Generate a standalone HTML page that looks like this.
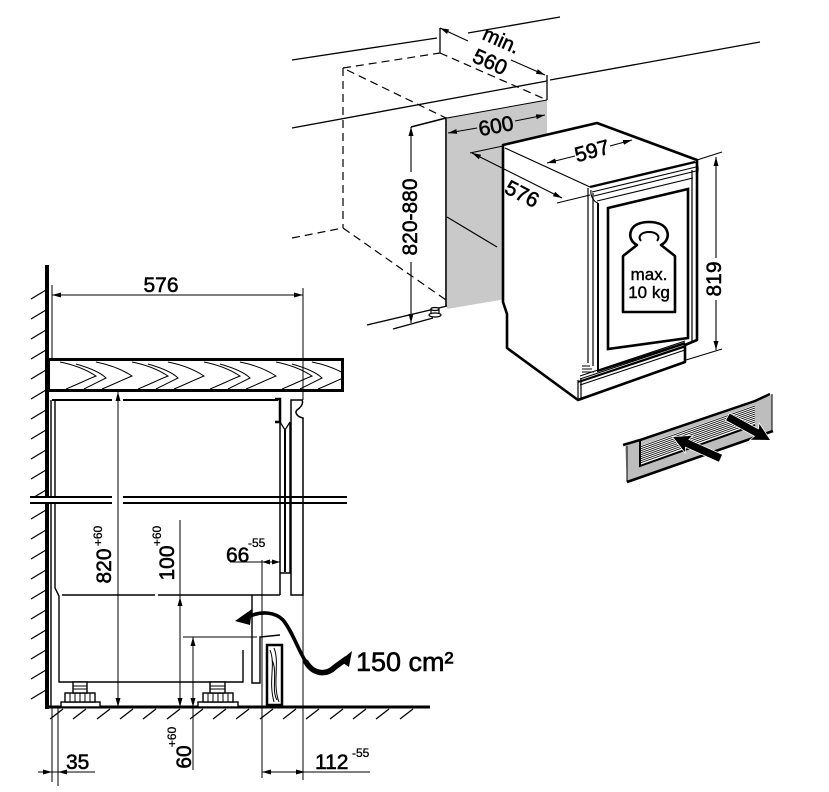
<!DOCTYPE html>
<html><head><meta charset="utf-8">
<style>html,body{margin:0;padding:0;background:#fff}svg{display:block}.t{fill:#000;stroke:none}.tx{fill:#000;stroke:#000;stroke-width:0.55}</style>
</head><body>
<svg xmlns="http://www.w3.org/2000/svg" width="829" height="792" viewBox="0 0 829 792" font-family="'Liberation Sans', sans-serif" fill="none" stroke="#000">
<defs>
<marker id="ar" viewBox="0 0 9 5" refX="9" refY="2.5" markerWidth="9" markerHeight="5" markerUnits="userSpaceOnUse" orient="auto-start-reverse"><path d="M0,0L9,2.5L0,5z" fill="#000" stroke="none"/></marker>
<clipPath id="ct"><rect x="50" y="361" width="291" height="28"/></clipPath>
</defs>

<!-- ========== UPPER RIGHT: NICHE ========== -->
<g stroke-width="1.3">
<line x1="292" y1="60" x2="437" y2="38"/>
<line x1="468" y1="33" x2="560" y2="17"/>
<line x1="292" y1="128" x2="547" y2="81"/>
<line x1="550" y1="80" x2="760" y2="42"/>
</g>
<polygon points="447,118 547,100 547,292 447,309" fill="#c9c9c9" stroke="none"/>
<line x1="447" y1="118" x2="547" y2="100" stroke-width="1"/>
<line x1="447" y1="217" x2="497" y2="247" stroke-width="1.2"/>
<line x1="547" y1="75" x2="547" y2="100" stroke-width="1.3"/>
<line x1="440" y1="28" x2="440" y2="53" stroke-width="1.3"/>
<g stroke-dasharray="8 5" stroke-width="1.2">
<path d="M343,68 L440,53"/>
<path d="M440,53 L547,100"/>
<path d="M343,68 L343,228"/>
<path d="M292,238 L343,228 L446,300"/>
<path d="M347,70 L446,118"/>
</g>
<path d="M411,127 L446,118 L446,306" stroke-width="1.6"/>
<line x1="367" y1="325" x2="447" y2="306" stroke-width="1.3"/>
<line x1="393" y1="329" x2="433" y2="318" stroke-width="1.3"/>
<rect x="431" y="309" width="8" height="5" fill="#fff" stroke-width="1.2"/>
<ellipse cx="435" cy="309" rx="4" ry="1.5" fill="#fff" stroke-width="1.2"/>
<ellipse cx="435" cy="315" rx="6" ry="2" fill="#fff" stroke-width="1.2"/>

<!-- 820-880 -->
<line x1="411" y1="127" x2="411" y2="172" stroke-width="1.1" marker-start="url(#ar)"/>
<line x1="411" y1="262" x2="411" y2="323" stroke-width="1.1" marker-end="url(#ar)"/>
<text class="tx" font-size="21" text-anchor="middle" transform="translate(410,217) rotate(-90)" y="7">820-880</text>

<!-- min. 560 -->
<line x1="440" y1="28" x2="468" y2="41" stroke-width="1.1" marker-start="url(#ar)"/>
<line x1="511" y1="60" x2="545" y2="75" stroke-width="1.1" marker-end="url(#ar)"/>
<text class="tx" font-size="20" text-anchor="middle" transform="translate(501,41) rotate(24)" y="6">min.</text>
<text class="tx" font-size="21" text-anchor="middle" transform="translate(490,62) rotate(24)" y="7">560</text>

<!-- 600 -->
<line x1="448" y1="133" x2="477" y2="128" stroke-width="1.1" marker-start="url(#ar)"/>
<line x1="515" y1="121" x2="545" y2="115" stroke-width="1.1" marker-end="url(#ar)"/>
<text class="tx" font-size="21" text-anchor="middle" transform="translate(496,126) rotate(-10.5)" y="7">600</text>

<!-- ========== FRIDGE ========== -->
<path d="M503,145 L597,123 L697,160 L697,340 L685,345 L685,362 L578,400 L507,348 L507,314 L503,302 Z" fill="#fff" stroke-width="2.6" stroke-linejoin="round"/>
<g stroke-width="1.2">
<line x1="505" y1="148" x2="590" y2="187"/>
<line x1="588" y1="188" x2="588" y2="363"/>
<line x1="593" y1="193" x2="593" y2="366"/>
<line x1="692" y1="170" x2="692" y2="343"/>
<line x1="578" y1="380" x2="578" y2="400"/>
<line x1="581" y1="378" x2="581" y2="398"/>
</g>
<path d="M598,203 L598,371 L685,343" stroke-width="2"/>
<path d="M590,187 L695,162" stroke-width="2.4"/>
<g stroke-width="1.1">
<path d="M592,192 L696,167"/>
<path d="M594,196 L696,171"/>
<path d="M597,201 L693,178"/>
<path d="M591,190 C590,196 594,202 598,203"/>
<path d="M695,162 C699,165 699,172 696,175"/>
</g>
<polygon points="608,208 688,189 688,338 608,349" stroke-width="2.6"/>
<g stroke-width="1.1">
<path d="M580,376 L685,341"/>
<path d="M580,379 L685,344"/>
<path d="M580,382 L685,347"/>
<path d="M580,385 L685,350"/>
<path d="M582,366 L590,366 M582,369 L592,369 M582,372 L594,372"/>
</g>
<path d="M578,382 L685,346" stroke-width="1.8"/>
<!-- weight -->
<path d="M623,312 L623,256 L637,245 C631,242 629,236 631,231 C633,225 640,222 649,222 C658,222 665,225 667,231 C669,236 667,242 661,245 L675,256 L675,312 Z" fill="#fff" stroke-width="2.6" stroke-linejoin="round"/>
<path d="M641,241 C637,236 642,232 649,232 C656,232 661,236 657,241" stroke-width="2"/>
<text class="tx" font-size="17" text-anchor="middle" x="649" y="280" style="stroke-width:0.4">max.</text>
<text class="tx" font-size="17" text-anchor="middle" x="649" y="298" style="stroke-width:0.4">10 kg</text>

<!-- 576 right -->
<line x1="470" y1="153" x2="503" y2="146" stroke-width="1"/>
<line x1="557" y1="203" x2="590" y2="195" stroke-width="1"/>
<line x1="472" y1="153" x2="562" y2="198" stroke-width="1.1" marker-start="url(#ar)" marker-end="url(#ar)"/>
<text class="tx" font-size="21" text-anchor="middle" transform="translate(522,194) rotate(27)" y="7">576</text>

<!-- 597 -->
<line x1="547" y1="163" x2="575" y2="156" stroke-width="1.1" marker-start="url(#ar)"/>
<line x1="610" y1="146" x2="632" y2="140" stroke-width="1.1" marker-end="url(#ar)"/>
<text class="tx" font-size="21" text-anchor="middle" transform="translate(592,151) rotate(-15)" y="7">597</text>

<!-- 819 -->
<line x1="697" y1="160" x2="722" y2="152" stroke-width="1"/>
<line x1="686" y1="360" x2="722" y2="349" stroke-width="1"/>
<line x1="716" y1="157" x2="716" y2="258" stroke-width="1.1" marker-start="url(#ar)"/>
<line x1="716" y1="300" x2="716" y2="350" stroke-width="1.1" marker-end="url(#ar)"/>
<text class="tx" font-size="21" text-anchor="middle" transform="translate(714,279) rotate(-90)" y="7">819</text>

<!-- ========== GRILLE ========== -->
<polygon points="625,446 772,395 772,432 627,482" fill="#bdbdbd" stroke="none"/>
<polygon points="640,446 755,405 755,425 640,466" fill="#fff" stroke="none"/>
<g stroke-width="0.9">
<line x1="640" y1="447" x2="755" y2="406"/>
<line x1="640" y1="449" x2="755" y2="408"/>
<line x1="640" y1="451" x2="755" y2="410"/>
<line x1="640" y1="453" x2="755" y2="412"/>
<line x1="640" y1="455" x2="755" y2="414"/>
<line x1="640" y1="457" x2="755" y2="416"/>
<line x1="640" y1="459" x2="755" y2="418"/>
<line x1="640" y1="461" x2="755" y2="420"/>
<line x1="640" y1="463" x2="755" y2="422"/>
</g>
<path d="M623,445 L640,440 L755,401 L770,394" stroke-width="2.5"/>
<path d="M640,441 L640,466 L755,425" stroke-width="2"/>
<line x1="627" y1="482" x2="773" y2="431" stroke-width="2.6"/>
<line x1="627" y1="446" x2="627" y2="482" stroke-width="1"/>
<line x1="772" y1="394" x2="772" y2="432" stroke-width="1"/>
<g fill="#000" stroke="#fff" stroke-width="1.5" paint-order="stroke">
<path transform="translate(673,437) rotate(204.1)" d="M0,0 L-17,-9 L-15,-3.8 L-52,-3.8 L-52,3.8 L-15,3.8 L-17,9 Z"/>
<path transform="translate(770,440) rotate(28.7)" d="M0,0 L-17,-9 L-15,-3.8 L-48,-3.8 L-48,3.8 L-15,3.8 L-17,9 Z"/>
</g>

<!-- ========== LEFT SECTION ========== -->
<g stroke-width="1.3">
<line x1="31" y1="299" x2="46" y2="290"/><line x1="31" y1="319" x2="46" y2="310"/>
<line x1="31" y1="339" x2="46" y2="330"/><line x1="31" y1="359" x2="46" y2="350"/>
<line x1="31" y1="379" x2="46" y2="370"/><line x1="31" y1="399" x2="46" y2="390"/>
<line x1="31" y1="419" x2="46" y2="410"/><line x1="31" y1="439" x2="46" y2="430"/>
<line x1="31" y1="459" x2="46" y2="450"/><line x1="31" y1="479" x2="46" y2="470"/>
<line x1="31" y1="499" x2="46" y2="490"/><line x1="31" y1="519" x2="46" y2="510"/>
<line x1="31" y1="539" x2="46" y2="530"/><line x1="31" y1="559" x2="46" y2="550"/>
<line x1="31" y1="579" x2="46" y2="570"/><line x1="31" y1="599" x2="46" y2="590"/>
<line x1="31" y1="619" x2="46" y2="610"/><line x1="31" y1="639" x2="46" y2="630"/>
<line x1="31" y1="659" x2="46" y2="650"/><line x1="31" y1="679" x2="46" y2="670"/>
<line x1="31" y1="699" x2="46" y2="690"/>
</g>
<line x1="47" y1="265" x2="47" y2="709" stroke-width="4"/>
<g stroke-width="1.3">
<line x1="63" y1="709" x2="50" y2="719"/><line x1="86" y1="709" x2="73" y2="719"/>
<line x1="110" y1="709" x2="97" y2="719"/><line x1="133" y1="709" x2="120" y2="719"/>
<line x1="156" y1="709" x2="143" y2="719"/><line x1="180" y1="709" x2="167" y2="719"/>
<line x1="203" y1="709" x2="190" y2="719"/><line x1="226" y1="709" x2="213" y2="719"/>
<line x1="249" y1="709" x2="236" y2="719"/><line x1="273" y1="709" x2="260" y2="719"/>
<line x1="296" y1="709" x2="283" y2="719"/><line x1="319" y1="709" x2="306" y2="719"/>
<line x1="343" y1="709" x2="330" y2="719"/><line x1="366" y1="709" x2="353" y2="719"/>
<line x1="389" y1="709" x2="376" y2="719"/><line x1="413" y1="709" x2="400" y2="719"/>
</g>
<line x1="45" y1="707" x2="430" y2="707" stroke-width="3"/>

<!-- countertop -->
<rect x="48.5" y="359.5" width="294" height="31" fill="#fff" stroke-width="3"/>
<g clip-path="url(#ct)" stroke-width="1">
<path d="M60,362 C80,366 90,372 96,376 C86,380 76,385 66,389"/>
<path d="M96,362 C116,366 126,372 132,376 C122,380 112,385 102,389"/>
<path d="M132,362 C152,366 162,372 168,376 C158,380 148,385 138,389"/>
<path d="M168,362 C188,366 198,372 204,376 C194,380 184,385 174,389"/>
<path d="M204,362 C224,366 234,372 240,376 C230,380 220,385 210,389"/>
<path d="M240,362 C260,366 270,372 276,376 C266,380 256,385 246,389"/>
<path d="M276,362 C296,366 306,372 312,376 C302,380 292,385 282,389"/>
<path d="M312,362 C332,366 342,372 348,376 C338,380 328,385 318,389"/>
<path d="M76,364 C90,368 100,372 106,378 C98,382 90,386 84,389"/>
<path d="M148,364 C162,368 172,372 178,378 C170,382 162,386 156,389"/>
<path d="M220,364 C234,368 244,372 250,378 C242,382 234,386 228,389"/>
<path d="M292,364 C306,368 316,372 322,378 C314,382 306,386 300,389"/>
</g>

<!-- 576 top dim -->
<line x1="52" y1="285" x2="52" y2="359" stroke-width="1"/>
<line x1="303" y1="288" x2="303" y2="400" stroke-width="1"/>
<line x1="52" y1="295" x2="303" y2="295" stroke-width="1" marker-start="url(#ar)" marker-end="url(#ar)"/>
<text class="tx" font-size="21" text-anchor="middle" x="161" y="292">576</text>

<!-- fridge section -->
<path d="M52,400 L112,400 M123,400 L278,400" stroke-width="2"/>
<g stroke-width="1.4">
<line x1="51" y1="400" x2="51" y2="707"/>
<path d="M55,400 L55,588 L59,596 L59,682 L243,682 L243,650"/>
<path d="M62,595 L155,595 M158,595 L280,595"/>
<path d="M252,595 L252,683 L260,683 L260,637 L280,635"/>
</g>
<line x1="183" y1="637" x2="257" y2="637" stroke-width="1"/>
<path d="M275,399 L280,399 L280,422 L275,422" stroke-width="2.5"/>
<path d="M280,422 L285,430 L290,422" stroke-width="1.2"/>
<path d="M280,422 L280,595" stroke-width="1.5"/>
<path d="M280,573 L290,573 L290,422" stroke-width="1.5"/>
<line x1="285" y1="430" x2="285" y2="572" stroke-width="2"/>
<path d="M291,595 L291,400 L302,400 C304,404 300,408 297,410 C294,413 298,417 303,418 L303,595 Z" fill="#fff" stroke-width="1.5"/>
<line x1="303" y1="595" x2="303" y2="780" stroke-width="1"/>
<rect x="267" y="645" width="15" height="60" fill="#fff" stroke-width="2.5"/>
<g stroke-width="1">
<path d="M270,650 C276,665 268,680 274,702"/>
<path d="M274,648 C280,662 272,684 279,702"/>
<path d="M272,660 C278,672 271,690 277,700"/>
</g>
<g fill="#fff" stroke-width="1.4">
<rect x="61" y="702" width="39" height="5"/>
<rect x="65" y="693" width="30" height="9"/>
<rect x="73" y="682" width="14" height="11"/>
<rect x="198" y="702" width="40" height="5"/>
<rect x="203" y="693" width="30" height="9"/>
<rect x="210" y="682" width="15" height="11"/>
</g>
<g stroke-width="1">
<path d="M70,693 V702 M75,693 V702 M80,693 V702 M85,693 V702 M90,693 V702"/>
<path d="M73,686 H87 M73,689 H87"/>
<path d="M208,693 V702 M213,693 V702 M218,693 V702 M223,693 V702 M228,693 V702"/>
<path d="M210,686 H225 M210,689 H225"/>
</g>

<rect x="28" y="498" width="83" height="4" fill="#fff" stroke="none"/>
<rect x="124" y="498" width="154" height="4" fill="#fff" stroke="none"/>
<path d="M30,497 L112,497 M123,497 L347,497 M30,503 L112,503 M123,503 L347,503" stroke-width="2"/>

<!-- 820+60 -->
<line x1="118" y1="392" x2="118" y2="707" stroke-width="1" marker-start="url(#ar)" marker-end="url(#ar)"/>
<text class="tx" font-size="21" text-anchor="middle" transform="translate(104,566) rotate(-90)" y="7">820</text>
<text class="tx" font-size="12" text-anchor="middle" transform="translate(98,536) rotate(-90)" y="4" style="stroke-width:0.3">+60</text>
<!-- 100+60 -->
<line x1="180" y1="520" x2="180" y2="707" stroke-width="1"/>
<polygon points="180,597 177.5,606 182.5,606" class="t"/>
<polygon points="180,707 177.5,698 182.5,698" class="t"/>
<text class="tx" font-size="21" text-anchor="middle" transform="translate(167,563) rotate(-90)" y="7">100</text>
<text class="tx" font-size="12" text-anchor="middle" transform="translate(157,536) rotate(-90)" y="4" style="stroke-width:0.3">+60</text>
<!-- 60+60 -->
<line x1="193" y1="637" x2="193" y2="770" stroke-width="1"/>
<polygon points="193,637 190.5,646 195.5,646" class="t"/>
<polygon points="193,707 190.5,698 195.5,698" class="t"/>
<text class="tx" font-size="21" text-anchor="middle" transform="translate(184,757) rotate(-90)" y="7">60</text>
<text class="tx" font-size="12" text-anchor="middle" transform="translate(172,737) rotate(-90)" y="4" style="stroke-width:0.3">+60</text>
<!-- 66-55 -->
<line x1="262" y1="560" x2="262" y2="778" stroke-width="1"/>
<line x1="230" y1="562" x2="280" y2="562" stroke-width="1"/>
<polygon points="262,562 270,559.5 270,564.5" class="t"/>
<polygon points="280,562 272,559.5 272,564.5" class="t"/>
<text class="tx" font-size="21" x="226" y="562">66</text>
<text class="tx" font-size="12" x="248" y="547" style="stroke-width:0.3">-55</text>
<!-- 112-55 -->
<line x1="262" y1="772" x2="370" y2="772" stroke-width="1"/>
<polygon points="262,772 271,769.5 271,774.5" class="t"/>
<polygon points="305,772 296,769.5 296,774.5" class="t"/>
<text class="tx" font-size="21" x="315" y="769">112</text>
<text class="tx" font-size="12" x="352" y="757" style="stroke-width:0.3">-55</text>
<!-- 35 -->
<line x1="52" y1="707" x2="52" y2="782" stroke-width="1"/>
<line x1="58" y1="707" x2="58" y2="786" stroke-width="1"/>
<line x1="38" y1="772" x2="95" y2="772" stroke-width="1"/>
<polygon points="52,772 43,769.5 43,774.5" class="t"/>
<polygon points="58,772 67,769.5 67,774.5" class="t"/>
<text class="tx" font-size="21" x="66" y="769">35</text>

<!-- airflow arrow -->
<path d="M250,616 C262,611 275,612 283,620 C293,632 300,655 308,665" stroke-width="3.6" stroke-linecap="round"/>
<path d="M306,662 C313,674 326,676 335,667 L346,659" stroke-width="5.5" stroke-linecap="round"/>
<polygon points="235,621 252,609 250,625" class="t"/>
<polygon points="340,661 352,651 349,667" class="t"/>
<text class="tx" font-size="27" x="356" y="671" style="stroke-width:0.6">150 cm²</text>
</svg>
</body></html>
